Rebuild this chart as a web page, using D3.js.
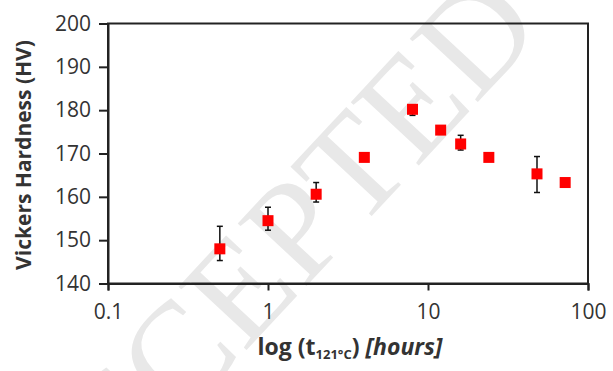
<!DOCTYPE html>
<html><head><meta charset="utf-8">
<script src="https://cdn.jsdelivr.net/npm/d3@7"></script>
<style>html,body{margin:0;padding:0;background:#fff;}svg{display:block;}</style>
</head><body>
<script>
const hours = [0.5, 1, 2, 4, 8, 12, 16, 24, 48, 72];
const hardness = [148.0, 154.5, 160.6, 169.1, 180.2, 175.4, 172.2, 169.1, 165.3, 163.3];
const errPlus = [5.2, 3.1, 2.7, 0, 0.8, 0, 2.0, 0, 4.0, 0];
const errMinus = [2.7, 2.2, 1.8, 0, 1.4, 0, 1.4, 0, 4.3, 0];
const xTicks = [0.1, 1, 10, 100];
const yTicks = [140, 150, 160, 170, 180, 190, 200];

const W = 613, H = 371;
const svg = d3.select("body").append("svg").attr("width", W).attr("height", H);
const font = "'Open Sans', sans-serif";

// watermark
svg.append("text")
  .attr("transform", "translate(545,30) rotate(-47)")
  .attr("text-anchor", "end")
  .attr("font-family", "'Liberation Serif', serif")
  .attr("font-size", 142)
  .attr("fill", "#e8e8e8")
  .text("ACCEPTED");

const x = d3.scaleLog().domain([0.1, 100]).range([108, 588]);
const y = d3.scaleLinear().domain([140, 200]).range([283.5, 23.5]);

// frame
svg.append("rect").attr("x", 108).attr("y", 23.5).attr("width", 480).attr("height", 260)
  .attr("fill", "none").attr("stroke", "#222").attr("stroke-width", 2);

const yAxis = svg.append("g").attr("transform", "translate(108,0)")
  .call(d3.axisLeft(y).tickValues(yTicks).tickSize(9).tickPadding(8).tickFormat(d3.format("d")));
const xAxis = svg.append("g").attr("transform", "translate(0,283.5)")
  .call(d3.axisBottom(x).tickValues(xTicks).tickSize(7).tickPadding(14).tickFormat(d => d));
[yAxis, xAxis].forEach(g => {
  g.select(".domain").attr("stroke", "#222").attr("stroke-width", 2);
  g.selectAll(".tick line").attr("stroke", "#222").attr("stroke-width", 2);
  g.selectAll(".tick text").attr("font-family", font).attr("font-size", 21).attr("fill", "#333");
});

// error bars
const eb = svg.append("g");
hours.forEach((h, i) => {
  if (errPlus[i] === 0 && errMinus[i] === 0) return;
  const cx = x(h), y1 = y(hardness[i] + errPlus[i]), y2 = y(hardness[i] - errMinus[i]);
  eb.append("line").attr("x1", cx).attr("x2", cx).attr("y1", y1).attr("y2", y2).attr("stroke", "#111").attr("stroke-width", 1.5);
  [y1, y2].forEach(yy => eb.append("line").attr("x1", cx - 3).attr("x2", cx + 3).attr("y1", yy).attr("y2", yy).attr("stroke", "#111").attr("stroke-width", 1.5));
});

// markers
const s = 11;
svg.append("g").selectAll("rect").data(hours).join("rect")
  .attr("x", d => x(d) - s / 2)
  .attr("y", (d, i) => y(hardness[i]) - s / 2)
  .attr("width", s).attr("height", s).attr("fill", "#ff0000");

// axis titles
svg.append("text")
  .attr("transform", "translate(31,155) rotate(-90)")
  .attr("text-anchor", "middle")
  .attr("font-family", font).attr("font-weight", "bold").attr("font-size", 21).attr("fill", "#333")
  .text("Vickers Hardness (HV)");

const xt = svg.append("text")
  .attr("x", 350).attr("y", 355)
  .attr("text-anchor", "middle")
  .attr("font-family", font).attr("font-weight", "bold").attr("font-size", 23).attr("fill", "#333");
xt.append("tspan").text("log (t");
xt.append("tspan").attr("font-size", 13).attr("dy", 4).text("121°C");
xt.append("tspan").attr("dy", -4).text(") ");
xt.append("tspan").attr("font-style", "italic").text("[hours]");
</script>
</body></html>
